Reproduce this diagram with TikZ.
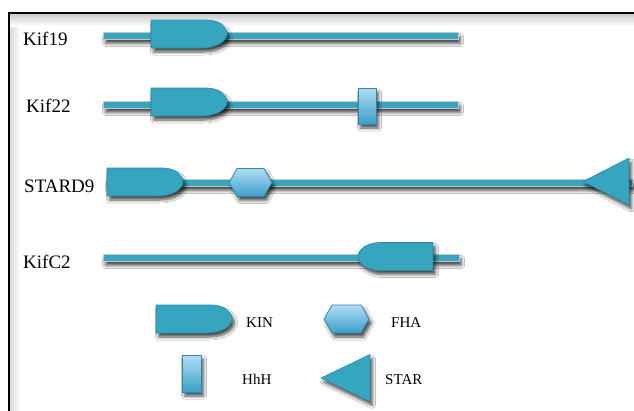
\documentclass[tikz,border=0pt]{standalone}
\usepackage{fontspec}
\setmainfont{Liberation Serif}
\usetikzlibrary{shadows.blur}

\definecolor{domteal}{HTML}{36A5C0}
\definecolor{domedge}{HTML}{2A8CA8}
\definecolor{lightblue}{HTML}{B2DDF4}
\definecolor{midblue}{HTML}{3C9FCB}
\definecolor{linerim}{HTML}{C6C6C6}

\tikzset{
  x=1pt, y=-1pt,
  softshadow/.style={blur shadow={shadow xshift=2.5pt, shadow yshift=-4pt,
      shadow blur steps=6, shadow opacity=70, shadow blur radius=3pt}},
  backbone/.style={fill=domteal, draw=linerim, line width=0.9pt, softshadow},
  kin/.style={fill=domteal, draw=domedge, line width=0.6pt, softshadow},
  glossy/.style={top color=lightblue, bottom color=midblue, draw=domedge,
      line width=0.8pt, softshadow},
  startri/.style={fill=domteal, draw=domedge, line width=0.6pt, softshadow},
  genelabel/.style={font=\fontsize{19}{22}\selectfont, anchor=base west, inner sep=0pt},
  keylabel/.style={font=\fontsize{15}{18}\selectfont, anchor=base west, inner sep=0pt},
}

% motor domain, flat at #1, rounded tip at #2, centre line #3
\newcommand\KinRight[3]{%
  \path[kin] (#1,#3-14) -- (#2-20,#3-14)
    .. controls (#2-7,#3-14) and (#2,#3-6) .. (#2,#3)
    .. controls (#2,#3+7) and (#2-10,#3+14) .. (#2-26,#3+14)
    -- (#1,#3+14) -- cycle;}
% motor domain, rounded end at #1, flat at #2, centre line #3
\newcommand\KinLeft[3]{%
  \path[kin] (#2,#3-14) -- (#1+22,#3-14)
    .. controls (#1+9,#3-14) and (#1,#3-7) .. (#1,#3)
    .. controls (#1,#3+7) and (#1+9,#3+14) .. (#1+22,#3+14)
    -- (#2,#3+14) -- cycle;}
% forkhead-associated domain
\newcommand\Fha[3]{%
  \path[glossy] (#1,#3) -- (#1+8,#3-14) -- (#2-8,#3-14) -- (#2,#3)
    -- (#2-8,#3+14) -- (#1+8,#3+14) -- cycle;}
% START domain, tip at #1, flat side at #2, centre #3, half height #4
\newcommand\StarTri[4]{%
  \path[startri] (#1,#3) -- (#2,#3-#4) -- (#2,#3+#4) -- cycle;}
% backbone of a protein
\newcommand\Backbone[3]{%
  \path[backbone] (#1,#3-3.5) rectangle (#2,#3+3.5);}

\begin{document}
\begin{tikzpicture}
  \useasboundingbox (0,0) rectangle (634,410);
  \fill[white] (0,0) rectangle (634,410);

  % frame with a soft inner shadow
  \shade[left color=black!16, right color=white] (9,14) rectangle (20,412);
  \shade[top color=black!20, bottom color=white] (9,14) rectangle (636,26);
  \draw[line width=1.6pt] (8.8,414) -- (8.8,13.2) -- (640,13.2);

  % Kif19
  \node[genelabel] (l19) at (23,45) {Kif19};
  \Backbone{103}{458}{36}
  \KinRight{151}{227}{34}

  % Kif22
  \node[genelabel] (l22) at (26,112) {Kif22};
  \Backbone{103}{458}{105}
  \KinRight{151}{227}{102}
  \path[glossy] (358,88) rectangle (376,124);

  % STARD9
  \node[genelabel] (ls9) at (24,192) {STARD9};
  \Backbone{106}{632}{183}
  \KinRight{107}{183}{182}
  \Fha{229}{272}{182.5}
  \StarTri{583}{629}{181.5}{23.5}

  % KifC2
  \node[genelabel] (lc2) at (23,268) {KifC2};
  \Backbone{103}{459}{258}
  \KinLeft{358}{433}{256.5}

  % key
  \KinRight{156}{232}{319}
  \node[keylabel] (kkin) at (246,327) {KIN};
  \Fha{324}{369}{319}
  \node[keylabel] (kfha) at (391,327) {FHA};
  \path[glossy] (182,355) rectangle (201,392);
  \node[keylabel] (khhh) at (242,384) {HhH};
  \StarTri{321}{370}{378}{23.5}
  \node[keylabel] (kstar) at (385,384) {STAR};
\end{tikzpicture}
\end{document}
